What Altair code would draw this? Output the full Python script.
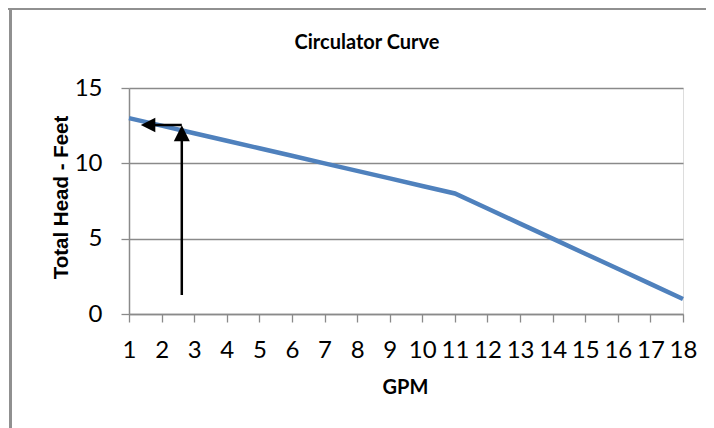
import altair as alt
import pandas as pd

# Circulator curve (GPM vs total head in feet)
gpm = list(range(1, 19))
head_ft = [13, 12.5, 12, 11.5, 11, 10.5, 10, 9.5, 9, 8.5, 8, 7, 6, 5, 4, 3, 2, 1]

x_ticks = list(range(1, 19))
y_ticks = [0, 5, 10, 15]
chart_title = ["Circulator Curve"]

# Arrow annotation
up_arrow_x = [2.62]
up_arrow_y0 = [1.26]
up_arrow_y1 = [12.0]
left_arrow_y = [12.54]
left_arrow_x0 = [2.62]
left_arrow_x1 = [1.585]

GRAY = "#8a8a8a"
BLUE = "#4F81BD"

curve = pd.DataFrame({"gpm": gpm, "head": head_ft})
up = pd.DataFrame({"x": up_arrow_x, "y0": up_arrow_y0, "y1": up_arrow_y1})
left = pd.DataFrame({"y": left_arrow_y, "x0": left_arrow_x0, "x1": left_arrow_x1})
ttl = pd.DataFrame({"t": chart_title})

xscale = alt.Scale(domain=[1, 18], nice=False, zero=False)
yscale = alt.Scale(domain=[0, 15], nice=False)

xaxis = alt.Axis(
    values=x_ticks, tickCount=18, grid=False, tickSize=8, tickColor=GRAY, tickWidth=1.3,
    domainColor=GRAY, domainWidth=1.5, labelFont="Lato", labelFontSize=24,
    labelColor="#000000", labelPadding=28, labelBaseline="middle", labelFlush=False,
    labelOverlap=False,
    title="GPM", titleFont="Lato", titleFontSize=20, titleFontWeight="bold",
    titleColor="#000000", titleY=73, titleBaseline="middle", titleX=276,
    titleAlign="center",
)
yaxis = alt.Axis(
    values=y_ticks, grid=True, gridColor=GRAY, gridWidth=1.3, tickSize=8,
    tickColor=GRAY, tickWidth=1.3, domainColor=GRAY, domainWidth=1.5,
    labelFont="Lato", labelFontSize=24, labelColor="#000000", labelPadding=19,
    labelOverlap=False,
    title="Total Head - Feet", titleFont="Liberation Sans", titleFontSize=20.5,
    titleFontWeight="bold", titleColor="#000000", titleAngle=270,
    titleX=-68, titleY=109, titleBaseline="middle", titleAlign="center",
)


def X(field):
    return alt.X(field, scale=xscale, axis=xaxis)


def Y(field):
    return alt.Y(field, scale=yscale, axis=yaxis)


line = alt.Chart(curve).mark_line(color=BLUE, strokeWidth=4.5).encode(
    x=X("gpm:Q"), y=Y("head:Q"),
)

up_shaft = alt.Chart(up).mark_rule(color="black", strokeWidth=2.5).encode(
    x=X("x:Q"), y=Y("y0:Q"), y2="y1:Q"
)
up_head = alt.Chart(up).mark_point(
    shape="M0,-1L1,1L-1,1Z", filled=True, color="black", opacity=1, size=256
).encode(x=X("x:Q"), y=Y("y1:Q"))

left_shaft = alt.Chart(left).mark_rule(color="black", strokeWidth=2.5).encode(
    x=X("x0:Q"), x2="x1:Q", y=Y("y:Q")
)
left_head = alt.Chart(left).mark_point(
    shape="M-1,0L1,-1L1,1Z", filled=True, color="black", opacity=1, size=210
).encode(x=X("x1:Q"), y=Y("y:Q"))

# outer chart frame (top and left edges visible in the picture)
frame_top = alt.Chart(ttl).mark_rule(color="#909090", strokeWidth=2).encode(
    x=alt.value(-121), x2=alt.value(600), y=alt.value(-79)
)
frame_left = alt.Chart(ttl).mark_rule(color="#909090", strokeWidth=3).encode(
    x=alt.value(-118.5), y=alt.value(-80), y2=alt.value(400)
)

title_mark = alt.Chart(ttl).mark_text(
    font="Lato", fontSize=20, fontWeight="bold", color="#000000",
    align="center", baseline="middle",
).encode(text="t:N", x=alt.value(238), y=alt.value(-45))

chart = alt.layer(
    line, left_shaft, up_shaft, left_head, up_head, frame_top, frame_left, title_mark
).properties(
    width=554, height=226,
    autosize=alt.AutoSizeParams(type="none"),
    padding={"left": 121, "top": 80, "right": 23, "bottom": 114},
).configure_view(stroke=None).configure(background="white")

chart.save("out.html", embed_options={"renderer": "svg", "actions": False})
